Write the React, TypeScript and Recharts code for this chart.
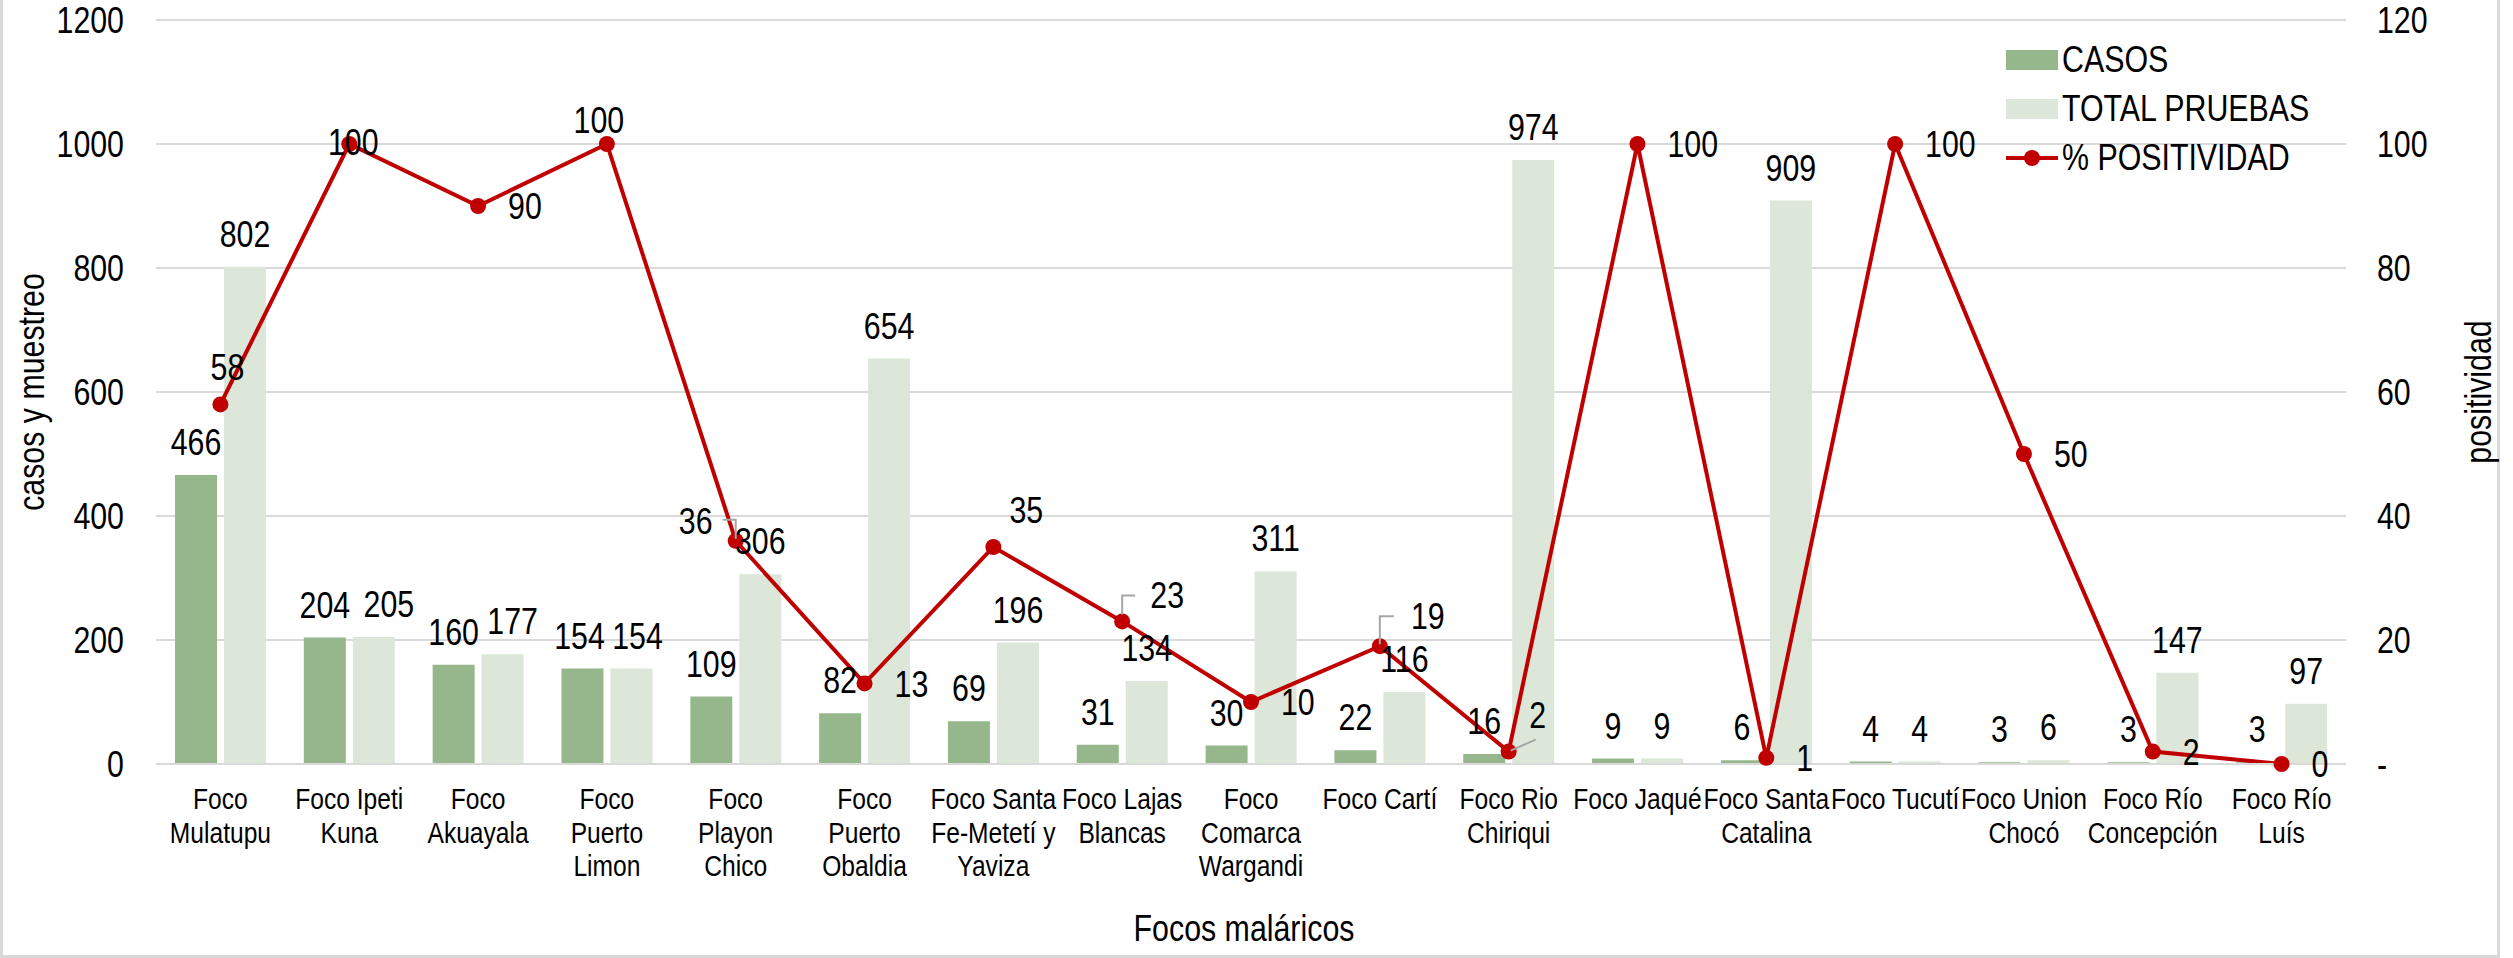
import React from "react"
import {
  Bar,
  CartesianGrid,
  ComposedChart,
  LabelList,
  Legend,
  Line,
  XAxis,
  YAxis,
} from "recharts"

// no Arial Narrow in the sandbox, so Liberation Sans squeezed horizontally
const FONT = "'Liberation Sans', Arial, sans-serif"
const NARROW = 0.82
const FS = 37
const CASOS_COLOR = "#96B78B"
const PRUEBAS_COLOR = "#DCE6D9"
const LINE_COLOR = "#C00000"
const GRID_COLOR = "#D9D9D9"

const focos = [
  "Foco\nMulatupu",
  "Foco Ipeti\nKuna",
  "Foco\nAkuayala",
  "Foco\nPuerto\nLimon",
  "Foco\nPlayon\nChico",
  "Foco\nPuerto\nObaldia",
  "Foco Santa\nFe-Metetí y\nYaviza",
  "Foco Lajas\nBlancas",
  "Foco\nComarca\nWargandi",
  "Foco Cartí",
  "Foco Rio\nChiriqui",
  "Foco Jaqué",
  "Foco Santa\nCatalina",
  "Foco Tucutí",
  "Foco Union\nChocó",
  "Foco Río\nConcepción",
  "Foco Río\nLuís",
]
const casos = [466, 204, 160, 154, 109, 82, 69, 31, 30, 22, 16, 9, 6, 4, 3, 3, 3]
const totalPruebas = [802, 205, 177, 154, 306, 654, 196, 134, 311, 116, 974, 9, 909, 4, 6, 147, 97]
const positividad = [58, 100, 90, 100, 36, 13, 35, 23, 10, 19, 2, 100, 1, 100, 50, 2, 0]

const leftTicks = [0, 200, 400, 600, 800, 1000, 1200]
const rightTicks = [0, 20, 40, 60, 80, 100, 120]

const data = focos.map((name, i) => ({
  name,
  casos: casos[i],
  pruebas: totalPruebas[i],
  positividad: positividad[i],
}))

// a few bar labels were nudged sideways in the original
const casosShift: Record<number, number> = { 3: -3 }
const pruebasShift: Record<number, number> = { 1: 15, 2: 10, 3: 6 }

// % labels sit right of the point by default; these were moved by hand
const pctTweaks: Record<
  number,
  { dx: number; dy: number; leader?: (x: number, y: number) => string }
> = {
  0: { dx: 7, dy: -38 },
  1: { dx: 4, dy: -2 },
  3: { dx: -8, dy: -24 },
  4: { dx: -40, dy: -20, leader: (x, y) => `M${x - 13},${y - 21}H${x}V${y - 2}` },
  6: { dx: 33, dy: -37 },
  7: { dx: 45, dy: -27, leader: (x, y) => `M${x + 13},${y - 26}H${x}V${y - 7}` },
  9: { dx: 48, dy: -30, leader: (x, y) => `M${x + 14},${y - 30}H${x}V${y - 2}` },
  10: { dx: 29, dy: -37, leader: (x, y) => `M${x + 2},${y - 1}L${x + 27},${y - 12}` },
}

function NText({
  x,
  y,
  anchor = "middle",
  size = FS,
  rotate = 0,
  children,
}: {
  x: number
  y: number
  anchor?: "start" | "middle" | "end"
  size?: number
  rotate?: number
  children: React.ReactNode
}) {
  return (
    <text
      transform={`translate(${x} ${y}) rotate(${rotate}) scale(${NARROW} 1)`}
      textAnchor={anchor}
      dominantBaseline="central"
      fontSize={size}
      fontFamily={FONT}
      fill="#000"
    >
      {children}
    </text>
  )
}

function casosLabel(props: any) {
  const { x, y, width, value, index } = props
  return (
    <NText x={x + width / 2 + (casosShift[index] || 0)} y={y - 33}>
      {value}
    </NText>
  )
}

function pruebasLabel(props: any) {
  const { x, y, width, value, index } = props
  return (
    <NText x={x + width / 2 + (pruebasShift[index] || 0)} y={y - 33}>
      {value}
    </NText>
  )
}

function pctLabel(props: any) {
  const { x, y, value, index } = props
  const t = pctTweaks[index]
  if (!t) {
    return (
      <NText x={x + 30} y={y} anchor="start">
        {value}
      </NText>
    )
  }
  return (
    <g>
      {t.leader && (
        <path d={t.leader(x, y)} stroke="#A6A6A6" strokeWidth={2} fill="none" />
      )}
      <NText x={x + t.dx} y={y + t.dy}>
        {value}
      </NText>
    </g>
  )
}

function CategoryTick(props: any) {
  const { x, y, payload } = props
  const lines = String(payload.value).split("\n")
  return (
    <g transform={`translate(${x} ${y}) scale(${NARROW} 1)`}>
      <text textAnchor="middle" fontSize={30} fontFamily={FONT} fill="#000">
        {lines.map((line, i) => (
          <tspan key={i} x={0} y={35 + i * 33.5 + 10.5}>
            {line}
          </tspan>
        ))}
      </text>
    </g>
  )
}

function LeftTick(props: any) {
  const { x, y, payload } = props
  return (
    <NText x={x} y={y} anchor="end">
      {payload.value}
    </NText>
  )
}

function RightTick(props: any) {
  const { x, y, payload } = props
  return (
    <NText x={x} y={y} anchor="start">
      {payload.value === 0 ? "-" : payload.value}
    </NText>
  )
}

function leftTitle(props: any) {
  const vb = props.viewBox
  return (
    <NText x={vb.x + 31} y={vb.y + vb.height / 2} rotate={-90}>
      casos y muestreo
    </NText>
  )
}

function rightTitle(props: any) {
  const vb = props.viewBox
  return (
    <NText x={vb.x + 132} y={vb.y + vb.height / 2} rotate={-90}>
      positividad
    </NText>
  )
}

function bottomTitle(props: any) {
  const vb = props.viewBox
  return (
    <NText x={vb.x + vb.width / 2 - 7} y={vb.y + 164}>
      Focos maláricos
    </NText>
  )
}

function LegendContent() {
  const row: React.CSSProperties = { display: "flex", alignItems: "center", height: 49 }
  const swatch: React.CSSProperties = { width: 52, height: 20, marginRight: 4, flex: "none" }
  const label: React.CSSProperties = {
    display: "inline-block",
    transform: `scaleX(${NARROW})`,
    transformOrigin: "left center",
    whiteSpace: "nowrap",
  }
  return (
    <div style={{ fontFamily: FONT, fontSize: FS, color: "#000", lineHeight: 1 }}>
      <div style={row}>
        <span style={{ ...swatch, background: CASOS_COLOR }} />
        <span style={label}>CASOS</span>
      </div>
      <div style={row}>
        <span style={{ ...swatch, background: PRUEBAS_COLOR }} />
        <span style={label}>TOTAL PRUEBAS</span>
      </div>
      <div style={row}>
        <svg width={52} height={20} style={{ marginRight: 4, flex: "none" }}>
          <line x1={0} y1={10} x2={52} y2={10} stroke={LINE_COLOR} strokeWidth={4} />
          <circle cx={26} cy={10} r={8} fill={LINE_COLOR} />
        </svg>
        <span style={label}>% POSITIVIDAD</span>
      </div>
    </div>
  )
}

export default function App() {
  return (
    <div
      style={{
        position: "absolute",
        left: 0,
        top: 0,
        width: 2513,
        height: 958,
        background: "#fff",
        overflow: "hidden",
      }}
    >
      <div
        style={{
          position: "absolute",
          left: 0,
          top: -10,
          width: 2500,
          height: 968,
          boxSizing: "border-box",
          border: `3px solid ${GRID_COLOR}`,
        }}
      />
      <ComposedChart
        width={2513}
        height={958}
        data={data}
        margin={{ top: 20, right: 0, bottom: 0, left: 0 }}
        barGap={7}
        barSize={42}
      >
        <CartesianGrid
          yAxisId="left"
          vertical={false}
          stroke={GRID_COLOR}
          strokeWidth={2}
        />
        <XAxis
          dataKey="name"
          interval={0}
          height={194}
          tickLine={false}
          tickSize={0}
          tickMargin={0}
          axisLine={{ stroke: GRID_COLOR, strokeWidth: 2 }}
          tick={<CategoryTick />}
          label={bottomTitle}
        />
        <YAxis
          yAxisId="left"
          width={156}
          domain={[0, 1200]}
          ticks={leftTicks}
          axisLine={false}
          tickLine={false}
          tickSize={0}
          tickMargin={32}
          tick={<LeftTick />}
          label={leftTitle}
        />
        <YAxis
          yAxisId="right"
          orientation="right"
          width={167}
          domain={[0, 120]}
          ticks={rightTicks}
          axisLine={false}
          tickLine={false}
          tickSize={0}
          tickMargin={31}
          tick={<RightTick />}
          label={rightTitle}
        />
        <Legend
          layout="vertical"
          align="center"
          verticalAlign="middle"
          content={<LegendContent />}
          wrapperStyle={{ left: 2006, top: 35, width: 420 }}
        />
        <Bar
          yAxisId="left"
          dataKey="casos"
          name="CASOS"
          fill={CASOS_COLOR}
          barSize={42}
          isAnimationActive={false}
        >
          <LabelList dataKey="casos" content={casosLabel} />
        </Bar>
        <Bar
          yAxisId="left"
          dataKey="pruebas"
          name="TOTAL PRUEBAS"
          fill={PRUEBAS_COLOR}
          barSize={42}
          isAnimationActive={false}
        >
          <LabelList dataKey="pruebas" content={pruebasLabel} />
        </Bar>
        <Line
          yAxisId="right"
          type="linear"
          dataKey="positividad"
          name="% POSITIVIDAD"
          stroke={LINE_COLOR}
          strokeWidth={4}
          dot={{ r: 8, fill: LINE_COLOR, stroke: LINE_COLOR, strokeWidth: 0 }}
          activeDot={false}
          isAnimationActive={false}
        >
          <LabelList dataKey="positividad" content={pctLabel} />
        </Line>
      </ComposedChart>
    </div>
  )
}
